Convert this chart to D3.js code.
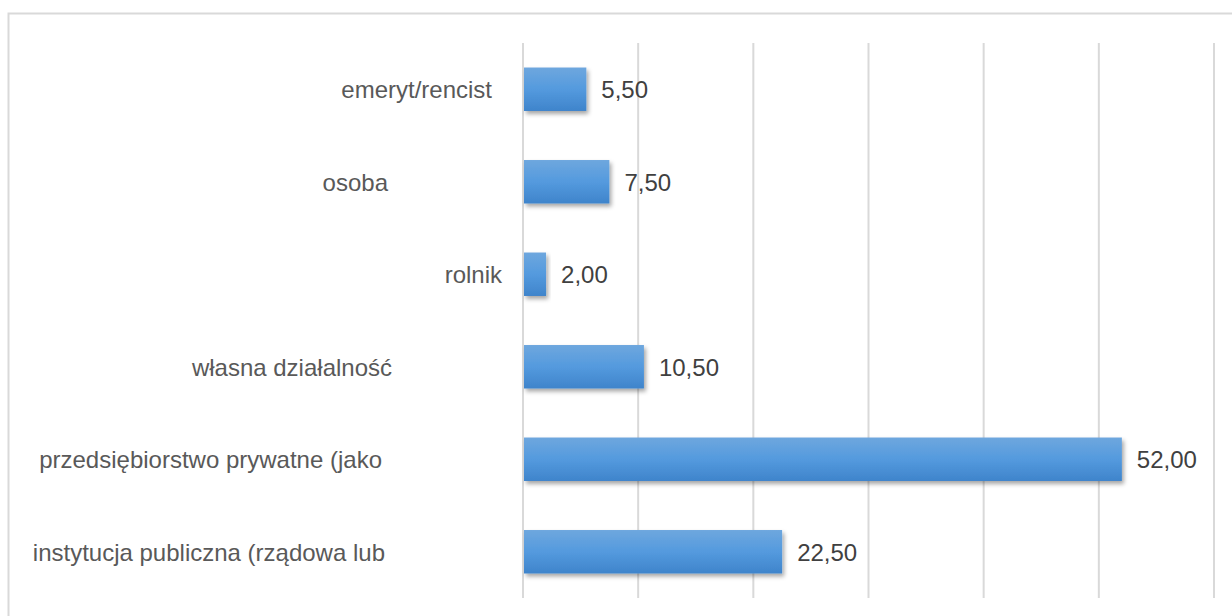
<!DOCTYPE html>
<html><head><meta charset="utf-8">
<script src="https://cdn.jsdelivr.net/npm/d3@7"></script>
<style>html,body{margin:0;padding:0;background:#fff;overflow:hidden}</style>
</head><body>
<svg id="chart" width="1232" height="616"></svg>
<script>
const categories = ["emeryt/rencist", "osoba", "rolnik", "własna działalność", "przedsiębiorstwo prywatne (jako", "instytucja publiczna (rządowa lub"];
const values = [5.5, 7.5, 2.0, 10.5, 52.0, 22.5];
const xTicks = [0, 10, 20, 30, 40, 50, 60];

// layout: right edge of each category label (labels as in reference, cut wrapped text)
const labelRight = {"emeryt/rencist": 492, "osoba": 388, "rolnik": 502, "własna działalność": 392, "przedsiębiorstwo prywatne (jako": 382, "instytucja publiczna (rządowa lub": 385};

const svg = d3.select("#chart");
const W = 1232, H = 616;
const plot = {left: 523, right: 1214, top: 43, bottom: 598};
const font = "'Liberation Sans', Arial, sans-serif";
const fs = 24;

const defs = svg.append("defs");
const grad = defs.append("linearGradient").attr("id", "barGrad").attr("x1", 0).attr("y1", 0).attr("x2", 0).attr("y2", 1);
grad.append("stop").attr("offset", "0%").attr("stop-color", "#6ea7de");
grad.append("stop").attr("offset", "50%").attr("stop-color", "#549ade");
grad.append("stop").attr("offset", "100%").attr("stop-color", "#3f84cb");
const f = defs.append("filter").attr("id", "shadow").attr("x", "-10%").attr("y", "-30%").attr("width", "130%").attr("height", "180%");
f.append("feDropShadow").attr("dx", 2).attr("dy", 3).attr("stdDeviation", 2).attr("flood-color", "#000").attr("flood-opacity", 0.35);

// outer chart border
svg.append("rect").attr("x", 8.5).attr("y", 13.5).attr("width", W + 10).attr("height", H + 10)
  .attr("fill", "#fff").attr("stroke", "#d9d9d9").attr("stroke-width", 2);

const x = d3.scaleLinear().domain([0, 60]).range([plot.left, plot.right]);
const y = d3.scaleBand().domain(categories).range([plot.top, plot.bottom]).paddingInner(0.53).paddingOuter(0.265);

// gridlines
svg.append("g").selectAll("line").data(xTicks).join("line")
  .attr("x1", d => x(d)).attr("x2", d => x(d))
  .attr("y1", plot.top).attr("y2", plot.bottom)
  .attr("stroke", "#d9d9d9").attr("stroke-width", 2);

// bars
svg.append("g").selectAll("rect").data(categories).join("rect")
  .attr("x", x(0) + 1)
  .attr("y", d => y(d))
  .attr("width", (d, i) => x(values[i]) - x(0) - 1)
  .attr("height", y.bandwidth())
  .attr("fill", "url(#barGrad)")
  .attr("filter", "url(#shadow)");

const loc = d3.formatLocale({decimal: ",", thousands: " ", grouping: [3], currency: ["", ""]});
const fmt = loc.format(".2f");

// value labels
svg.append("g").selectAll("text").data(categories).join("text")
  .attr("x", (d, i) => x(values[i]) + 15)
  .attr("y", d => y(d) + y.bandwidth() / 2)
  .attr("dy", "0.38em")
  .attr("font-family", font).attr("font-size", fs).attr("fill", "#404040")
  .text((d, i) => fmt(values[i]));

// category labels
svg.append("g").selectAll("text").data(categories).join("text")
  .attr("x", d => labelRight[d])
  .attr("y", d => y(d) + y.bandwidth() / 2)
  .attr("dy", "0.38em")
  .attr("text-anchor", "end")
  .attr("font-family", font).attr("font-size", fs).attr("fill", "#595959")
  .text(d => d);
</script>
</body></html>
